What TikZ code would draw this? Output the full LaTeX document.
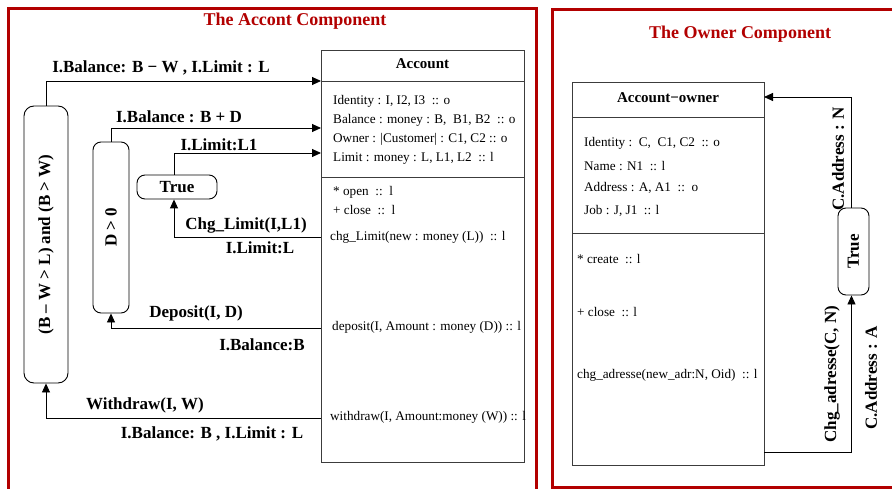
\documentclass[tikz,border=0pt]{standalone}
\usepackage{fontspec}
\usepackage{graphicx}
\setmainfont{Liberation Serif}
\usetikzlibrary{arrows.meta}
\definecolor{framered}{RGB}{178,0,0}
\definecolor{boxgray}{RGB}{60,60,60}

\begin{document}
\begin{tikzpicture}[x=1pt,y=-1pt,
  frame/.style={draw=framered,line width=3pt},
  title/.style={text=framered,inner sep=0,font=\fontsize{18}{21}\selectfont\bfseries},
  cls/.style={draw=boxgray,line width=0.9pt,inner sep=0,anchor=north west},
  sep/.style={draw=boxgray,line width=0.9pt},
  head/.style={inner sep=0,font=\fontsize{15}{17}\selectfont\bfseries},
  attr/.style={anchor=west,inner sep=0,font=\fontsize{13.2}{15}\selectfont},
  lbl/.style={inner sep=0,font=\fontsize{17}{19}\selectfont\bfseries},
  guard/.style={draw=black,line width=0.9pt,rounded corners=8pt,inner sep=0,
    font=\fontsize{17}{19}\selectfont\bfseries},
  conn/.style={line width=0.9pt,-{Triangle[length=9pt,width=8pt]}},
]
\useasboundingbox (0,0) rectangle (892,489);

% ---- component frames ----
\draw[frame] (8,492) -- (8,9) -- (536,9) -- (536,492);
\draw[frame] (896,10) -- (552,10) -- (552,487) -- (896,487);
\node[title] (t1title) at (295,21) {The Accont Component};
\node[title] (t2title) at (740,34) {The Owner Component};

% ---- Account class ----
\node[cls,minimum width=203,minimum height=412] (acc) at (321,50) {};
\draw[sep] (321,81) -- (524,81);
\draw[sep] (321,177) -- (524,177);
\node[head] (acchead) at (422.5,64) {Account};
\node[attr] (a1) at (333,101) {Identity : I, I2, I3\ \ :: o};
\node[attr] (a2) at (333,120) {Balance : money : B,\ \ B1, B2\ \ :: o};
\node[attr] (a3) at (333,139) {Owner : |Customer| : C1, C2 :: o};
\node[attr] (a4) at (333,158) {Limit : money : L, L1, L2\ \ :: l};
\node[attr] (m1) at (333,192) {* open\ \ ::\ \ l};
\node[attr] (m2) at (333,210) {+ close\ \ ::\ \ l};
\node[attr] (m3) at (330,237) {chg\_Limit(new : money (L))\ \ :: l};
\node[attr] (m4) at (332,327) {deposit(I, Amount : money (D)) :: l};
\node[attr] (m5) at (330,417) {withdraw(I, Amount:money (W)) :: l};

% ---- guards ----
\node[guard,rounded corners=10pt,minimum width=44,minimum height=277] (g1) at (46,244.5)
  {\rotatebox{90}{(B -- W > L) and (B > W)}};
\node[guard,minimum width=36,minimum height=171] (g2) at (111,227.5)
  {\rotatebox{90}{D > 0}};
\node[guard,minimum width=80,minimum height=24] (g3) at (177,187) {True};

% connector end points on the Account class
\coordinate (in1) at (321,81);
\coordinate (in2) at (321,128);
\coordinate (in3) at (321,153);
\coordinate (out1) at (321,237);
\coordinate (out2) at (321,328);
\coordinate (out3) at (321,418);

\draw[conn] (g1.north) |- (in1);
\draw[conn] (g2.north) |- (in2);
\draw[conn] ([xshift=-3pt]g3.north) |- (in3);
\draw[conn] (out1) -| ([xshift=-3pt]g3.south);
\draw[conn] (out2) -| (g2.south);
\draw[conn] (out3) -| (g1.south);

\node[lbl] (l1) at (161,68) {I.Balance: B − W , I.Limit : L};
\node[lbl] (l2) at (179,117) {I.Balance : B + D};
\node[lbl] (l3) at (219,145) {I.Limit:L1};
\node[lbl] (l4) at (246,225) {Chg\_Limit(I,L1)};
\node[lbl] (l5) at (260,248) {I.Limit:L};
\node[lbl] (l6) at (196,313) {Deposit(I, D)};
\node[lbl] (l7) at (262,345) {I.Balance:B};
\node[lbl] (l8) at (145,405) {Withdraw(I, W)};
\node[lbl] (l9) at (212,434) {I.Balance: B , I.Limit : L};

% ---- Account-owner class ----
\node[cls,minimum width=192,minimum height=383] (own) at (572,82) {};
\draw[sep] (572,117) -- (764,117);
\draw[sep] (572,233) -- (764,233);
\node[head] (ownhead) at (668,98) {Account−owner};
\node[attr] (o1) at (584,143) {Identity :\ \ C,\ \ C1, C2\ \ :: o};
\node[attr] (o2) at (584,166) {Name : N1\ \ :: l};
\node[attr] (o3) at (584,188) {Address : A, A1\ \ ::\ \ o};
\node[attr] (o4) at (584,211) {Job : J, J1\ \ :: l};
\node[attr] (p1) at (577,259) {* create\ \ :: l};
\node[attr] (p2) at (577,312) {+ close\ \ :: l};
\node[attr] (p3) at (577,375) {chg\_adresse(new\_adr:N, Oid)\ \ :: l};

\node[guard,minimum width=31,minimum height=87] (g4) at (853.5,251.5)
  {\rotatebox{90}{True}};

\coordinate (oin) at (764,97);
\coordinate (oout) at (764,452);
\draw[conn] ([xshift=-2pt]g4.north) |- (oin);
\draw[conn] (oout) -| ([xshift=-2pt]g4.south);

\node[lbl,rotate=90] (r1) at (838,159) {C.Address : N};
\node[lbl,rotate=90] (r2) at (832,374) {Chg\_adresse(C, N)};
\node[lbl,rotate=90] (r3) at (871,378) {C.Address : A};
\end{tikzpicture}
\end{document}
